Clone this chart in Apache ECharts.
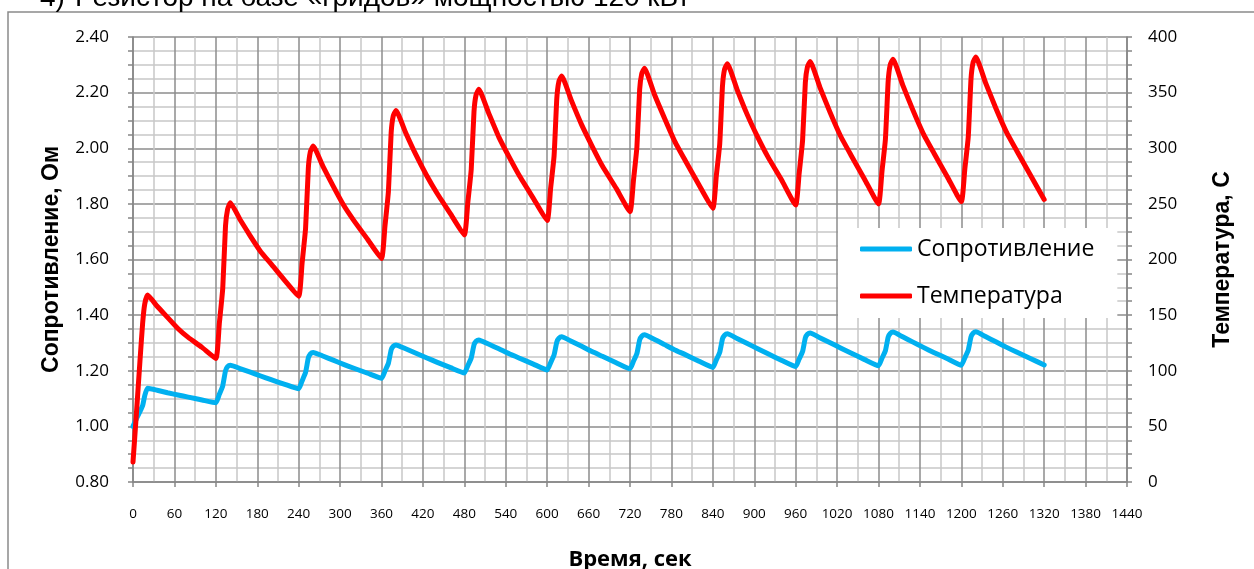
<!DOCTYPE html>
<html>
<head>
<meta charset="utf-8">
<script src="https://cdn.jsdelivr.net/npm/echarts@6/dist/echarts.min.js"></script>
<style>
html,body{margin:0;padding:0;background:#fff;}
#chart{width:1254px;height:569px;}
</style>
</head>
<body>
<div id="chart"></div>
<script>
// Time, s
const times = [
  0,5,10,14,17,21,35,50,65,80,100,
  120,125,130,134,137,141,155,170,185,200,220,
  240,245,250,254,257,261,275,290,305,320,340,
  360,365,370,374,377,381,395,410,425,440,460,
  480,485,490,494,497,501,515,530,545,560,580,
  600,605,610,614,617,621,635,650,665,680,700,
  720,725,730,734,737,741,755,770,785,800,820,
  840,845,850,854,857,861,875,890,905,920,940,
  960,965,970,974,977,981,995,1010,1025,1040,1060,
  1080,1085,1090,1094,1097,1101,1115,1130,1145,1160,1180,
  1200,1205,1210,1214,1217,1221,1235,1250,1265,1280,1300,
  1320
];
// Сопротивление, Ом
const resistance = [
  1.000,1.028,1.053,1.075,1.110,1.137,1.130,1.121,1.113,1.105,1.095,
  1.085,1.115,1.146,1.200,1.215,1.220,1.208,1.195,1.181,1.168,1.151,
  1.135,1.164,1.194,1.246,1.261,1.266,1.253,1.238,1.223,1.209,1.191,
  1.173,1.199,1.227,1.275,1.288,1.293,1.279,1.263,1.247,1.231,1.211,
  1.192,1.218,1.246,1.293,1.306,1.311,1.296,1.279,1.261,1.245,1.224,
  1.203,1.229,1.257,1.304,1.317,1.322,1.306,1.288,1.269,1.252,1.229,
  1.207,1.234,1.262,1.311,1.324,1.329,1.313,1.294,1.275,1.258,1.234,
  1.212,1.239,1.266,1.315,1.328,1.333,1.316,1.298,1.279,1.261,1.237,
  1.215,1.242,1.269,1.318,1.331,1.336,1.319,1.301,1.282,1.264,1.240,
  1.218,1.245,1.272,1.321,1.334,1.339,1.322,1.303,1.284,1.266,1.243,
  1.220,1.246,1.274,1.322,1.335,1.340,1.323,1.304,1.285,1.267,1.244,
  1.221
];
// Температура, C
const temperature = [
  18,62,108,143,160,168,158,148,138,130,121,
  111,142,174,230,245,251,236,221,207,196,181,
  167,197,228,282,297,302,284,266,249,235,218,
  201,230,261,314,329,334,314,294,276,260,241,
  222,251,281,333,348,353,332,310,292,275,255,
  235,264,293,345,360,365,343,321,302,284,264,
  243,271,301,353,367,372,349,327,306,289,267,
  246,275,304,356,371,376,353,330,310,292,271,
  249,277,307,359,373,378,355,332,311,294,272,
  250,279,308,360,375,380,357,334,313,296,274,
  252,281,310,362,377,382,359,336,315,298,276,
  254
];
const seriesNames = ['Сопротивление', 'Температура'];
const xName = 'Время, сек';
const yLeftName = 'Сопротивление, Ом';
const yRightName = 'Температура, С';
const headingNum = '4)';
const headingText = 'Резистор на базе «гридов» мощностью 120 кВт';

const resData = times.map((t, i) => [t, resistance[i]]);
const tempData = times.map((t, i) => [t, temperature[i]]);

const AX = '#868686';
const MAJ = '#8c8c8c';
const MIN = '#c8c8c8';

const chart = echarts.init(document.getElementById('chart'), null, {renderer: 'canvas'});
chart.setOption({
  animation: false,
  backgroundColor: '#fff',
  graphic: [
    {type: 'rect', z: -10, shape: {x: 8, y: 12, width: 1400, height: 700},
     style: {fill: 'none', stroke: '#8a8a8a', lineWidth: 1.5}},
    {type: 'text', left: 40, top: -16,
     style: {text: headingNum, font: '28px "Liberation Sans"', fill: '#000'}},
    {type: 'text', left: 75, top: -16,
     style: {text: headingText, font: '28px "Liberation Sans"', fill: '#000'}}
  ],
  grid: {left: 133, right: 127, top: 37, bottom: 87, containLabel: false, outerBoundsMode: 'none'},
  legend: {
    orient: 'vertical', left: 838, top: 228,
    backgroundColor: '#fff', padding: [8, 23, 9, 22], itemGap: 21,
    itemWidth: 52, itemHeight: 5, icon: 'roundRect',
    textStyle: {fontFamily: 'Open Sans', fontSize: 23, color: '#000', lineHeight: 26},
    data: seriesNames
  },
  xAxis: {
    type: 'value', min: 0, max: 1440, interval: 60,
    axisLine: {show: true, lineStyle: {color: AX, width: 1.5}},
    axisTick: {show: true, length: 5, lineStyle: {color: AX, width: 1.5}},
    splitLine: {show: true, lineStyle: {color: MAJ, width: 1.5}},
    minorTick: {show: false, splitNumber: 2},
    minorSplitLine: {show: true, lineStyle: {color: MIN, width: 1.5}},
    axisLabel: {fontFamily: 'Open Sans', fontSize: 13.5, color: '#000', margin: 25,
                formatter: v => String(v)},
    name: xName, nameLocation: 'middle', nameGap: 67,
    nameTextStyle: {fontFamily: 'Open Sans', fontWeight: 'bold', fontSize: 22, color: '#000'}
  },
  yAxis: [
    {
      type: 'value', min: 0.8, max: 2.4, interval: 0.2, position: 'left',
      axisLine: {show: true, lineStyle: {color: AX, width: 1.5}},
      axisTick: {show: true, length: 5, lineStyle: {color: AX, width: 1.5}},
      minorTick: {show: true, splitNumber: 4, length: 5, lineStyle: {color: AX, width: 1.5}},
      splitLine: {show: true, lineStyle: {color: MAJ, width: 1.5}},
      minorSplitLine: {show: true, lineStyle: {color: MIN, width: 1.5}},
      axisLabel: {fontFamily: 'Open Sans', fontSize: 17, color: '#000', margin: 24,
                  formatter: v => v.toFixed(2)},
      name: yLeftName, nameLocation: 'middle', nameRotate: 90, nameGap: 70,
      nameTextStyle: {fontFamily: 'Liberation Sans', fontWeight: 'bold', fontSize: 23, color: '#000'}
    },
    {
      type: 'value', min: 0, max: 400, interval: 50, position: 'right',
      axisLine: {show: true, lineStyle: {color: AX, width: 1.5}},
      axisTick: {show: true, length: 5, lineStyle: {color: AX, width: 1.5}},
      minorTick: {show: true, splitNumber: 4, length: 5, lineStyle: {color: AX, width: 1.5}},
      splitLine: {show: false},
      minorSplitLine: {show: false},
      axisLabel: {fontFamily: 'Open Sans', fontSize: 17, color: '#000', margin: 21},
      name: yRightName, nameLocation: 'middle', nameRotate: 90, nameGap: 84,
      nameTextStyle: {fontFamily: 'Liberation Sans', fontWeight: 'bold', fontSize: 23, color: '#000'}
    }
  ],
  series: [
    {
      name: seriesNames[0], type: 'line', yAxisIndex: 0, data: resData,
      showSymbol: false, symbol: 'none', smooth: 0.15,
      itemStyle: {color: '#00B0F0'},
      lineStyle: {color: '#00B0F0', width: 5, cap: 'round', join: 'round'}
    },
    {
      name: seriesNames[1], type: 'line', yAxisIndex: 1, data: tempData,
      showSymbol: false, symbol: 'none', smooth: 0.15,
      itemStyle: {color: '#FF0000'},
      lineStyle: {color: '#FF0000', width: 5, cap: 'round', join: 'round'}
    }
  ]
});
</script>
</body>
</html>
